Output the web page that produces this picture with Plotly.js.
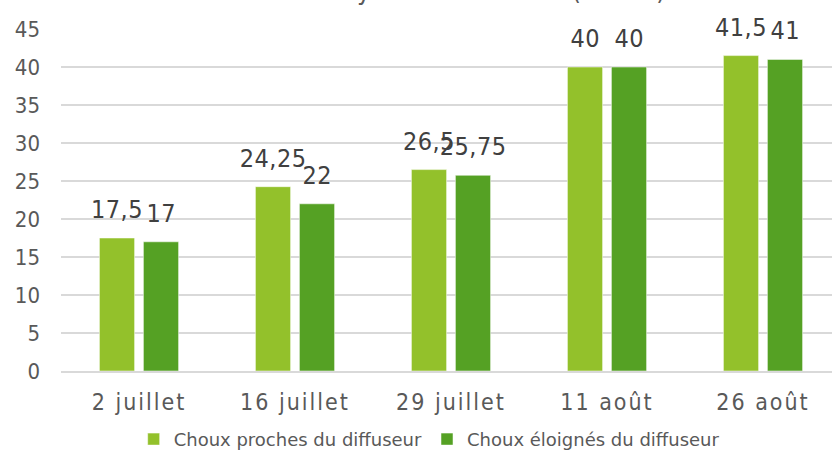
<!DOCTYPE html>
<html>
<head>
<meta charset="utf-8">
<script src="https://cdn.plot.ly/plotly-3.0.1.min.js"></script>
<style>
html,body{margin:0;padding:0;overflow:hidden;background:#fff;width:832px;height:453px;}
#chart{width:850px;height:453px;}
#chart .xtick text{letter-spacing:2px;}
#chart .annotation-text{letter-spacing:0.5px;}
</style>
</head>
<body>
<div id="chart"></div>
<script>
const categories = ["2 juillet", "16 juillet", "29 juillet", "11 août", "26 août"];
const seriesNames = ["Choux proches du diffuseur", "Choux éloignés du diffuseur"];
const proches = [17.5, 24.25, 26.5, 40, 41.5];
const eloignes = [17, 22, 25.75, 40, 41];
const labelsProches = ["17,5", "24,25", "26,5", "40", "41,5"];
const labelsEloignes = ["17", "22", "25,75", "40", "41"];
const titleText = "Hauteur moyenne des choux (en cm)";

const colors = ["#93C12B", "#55A124"];
const textFont = "'DejaVu Sans Condensed', 'DejaVu Sans', Arial, sans-serif";

const traces = [
  {type: "bar", name: seriesNames[0], x: categories, y: proches,
   marker: {color: colors[0], line: {color: "rgba(255,255,255,0.5)", width: 1}}, hoverinfo: "skip"},
  {type: "bar", name: seriesNames[1], x: categories, y: eloignes,
   marker: {color: colors[1], line: {color: "rgba(255,255,255,0.5)", width: 1}}, hoverinfo: "skip"}
];

const annotations = [];
categories.forEach((c, i) => {
  annotations.push({x: c, y: proches[i], xref: "x", yref: "y", text: labelsProches[i],
    showarrow: false, xanchor: "center", yanchor: "bottom", xshift: -22, yshift: 12,
    font: {family: textFont, size: 25, color: "#404040"}});
  annotations.push({x: c, y: eloignes[i], xref: "x", yref: "y", text: labelsEloignes[i],
    showarrow: false, xanchor: "center", yanchor: "bottom", xshift: 22, yshift: 12,
    font: {family: textFont, size: 25, color: "#404040"}});
});
// chart title, mostly above the visible area as in the reference
annotations.push({x: 0.485, y: 1.064, xref: "paper", yref: "paper", text: titleText,
  showarrow: false, xanchor: "center", yanchor: "bottom",
  font: {family: textFont, size: 26, color: "#595959"}});

const layout = {
  width: 850, height: 453,
  margin: {l: 61, r: 9, t: 29, b: 82, autoexpand: false},
  paper_bgcolor: "#ffffff", plot_bgcolor: "#ffffff",
  barmode: "group", bargap: 0.436, bargroupgap: 0.2,
  showlegend: true,
  legend: {orientation: "h", x: 0.472, xanchor: "center", y: -0.2, yanchor: "middle",
           font: {family: "'DejaVu Sans', sans-serif", size: 18, color: "#595959"},
           itemwidth: 30, traceorder: "normal"},
  xaxis: {type: "category", showgrid: false, zeroline: false, showline: true, linecolor: "#d9d9d9", linewidth: 1.5,
          ticks: "", ticklabelstandoff: 10, automargin: false,
          tickfont: {family: textFont, size: 23, color: "#595959"}, fixedrange: true},
  yaxis: {range: [0, 45], dtick: 5, tick0: 0, showgrid: true, gridcolor: "#d9d9d9", gridwidth: 1.5,
          zeroline: false, showline: false, ticks: "", ticklabelstandoff: 20, automargin: false,
          tickfont: {family: textFont, size: 22, color: "#595959"}, fixedrange: true},
  annotations: annotations
};

Plotly.newPlot("chart", traces, layout, {staticPlot: true, displayModeBar: false});
</script>
</body>
</html>
